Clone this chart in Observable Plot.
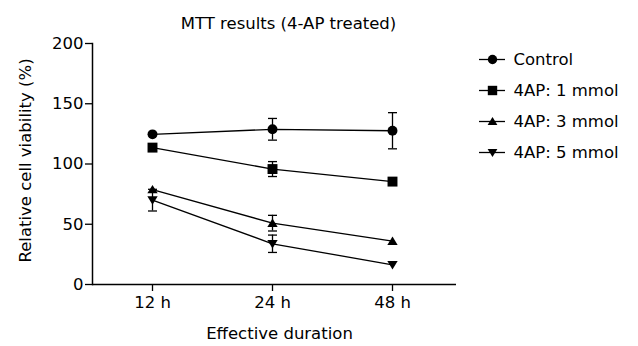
<!DOCTYPE html>
<html>
<head>
<meta charset="utf-8">
<script src="https://cdn.jsdelivr.net/npm/d3@7"></script>
<script src="https://cdn.jsdelivr.net/npm/@observablehq/plot@0.6"></script>
<style>
  html, body { margin: 0; padding: 0; background: #fff; }
  #wrap { position: relative; width: 638px; height: 346px; font-family: "DejaVu Sans", sans-serif; }
  #legend { position: absolute; left: 470px; top: 40px; }
</style>
</head>
<body>
<div id="wrap"><div id="chart"></div><div id="legend"></div></div>
<script>
const title = "MTT results (4-AP treated)";
const xLabel = "Effective duration";
const yLabel = "Relative cell viability (%)";
const durations = ["12 h", "24 h", "48 h"];
const seriesNames = ["Control", "4AP: 1 mmol", "4AP: 3 mmol", "4AP: 5 mmol"];
const controlMean = [124.6, 128.8, 127.6];
const controlErr = [0, 9, 15];
const mmol1Mean = [113.6, 95.8, 85.4];
const mmol1Err = [0, 6.2, 0];
const mmol3Mean = [78.8, 50.9, 36.0];
const mmol3Err = [0, 6.5, 0];
const mmol5Mean = [70.0, 33.8, 16.3];
const mmol5Err = [9, 7.2, 0];
const yTicks = [0, 50, 100, 150, 200];

const means = [controlMean, mmol1Mean, mmol3Mean, mmol5Mean];
const errs = [controlErr, mmol1Err, mmol3Err, mmol5Err];

const data = [];
seriesNames.forEach((s, i) => durations.forEach((d, j) => {
  data.push({series: s, duration: d, mean: means[i][j], err: errs[i][j], lo: means[i][j] - errs[i][j], hi: means[i][j] + errs[i][j]});
}));

// custom symbols
const symCircle = {draw(ctx, size) { const r = Math.sqrt(size) * 0.5; ctx.moveTo(r, 0); ctx.arc(0, 0, r, 0, 2 * Math.PI); }};
const symSquare = {draw(ctx, size) { const s = Math.sqrt(size) * 0.5; ctx.rect(-s, -s, 2 * s, 2 * s); }};
const symTriUp = {draw(ctx, size) { const s = Math.sqrt(size); const w = s * 0.52, h = s * 0.85; ctx.moveTo(0, -h * 0.55); ctx.lineTo(w, h * 0.45); ctx.lineTo(-w, h * 0.45); ctx.closePath(); }};
const symTriDown = {draw(ctx, size) { const s = Math.sqrt(size); const w = s * 0.52, h = s * 0.85; ctx.moveTo(0, h * 0.55); ctx.lineTo(w, -h * 0.45); ctx.lineTo(-w, -h * 0.45); ctx.closePath(); }};
const symCap = {draw(ctx, size) { const w = Math.sqrt(size) * 0.5; ctx.moveTo(-w, 0); ctx.lineTo(w, 0); }};
const symbols = [symCircle, symSquare, symTriUp, symTriDown];

const font = "'DejaVu Sans', sans-serif";
const fs = 16.5;
const marks = [];
seriesNames.forEach((s, i) => {
  const rows = data.filter(d => d.series === s);
  const errRows = rows.filter(d => d.err > 0);
  marks.push(Plot.line(rows, {x: "duration", y: "mean", stroke: "black", strokeWidth: 1.3}));
  marks.push(Plot.ruleX(errRows, {x: "duration", y1: "lo", y2: "hi", stroke: "black", strokeWidth: 1.3}));
  marks.push(Plot.dot(errRows, {x: "duration", y: "lo", symbol: symCap, r: 5.1, stroke: "black", fill: "none", strokeWidth: 1.3}));
  marks.push(Plot.dot(errRows, {x: "duration", y: "hi", symbol: symCap, r: 5.1, stroke: "black", fill: "none", strokeWidth: 1.3}));
  marks.push(Plot.dot(rows, {x: "duration", y: "mean", symbol: symbols[i], r: 5.6, fill: "black", stroke: "none"}));
});

const chart = Plot.plot({
  width: 638,
  height: 346,
  marginLeft: 92,
  marginRight: 182,
  marginTop: 43,
  marginBottom: 62,
  style: {fontFamily: font, fontSize: fs + "px", color: "black", background: "white"},
  x: {type: "point", domain: durations, padding: 0.5, insetRight: 4, label: null},
  y: {domain: [0, 200], label: null},
  marks: [
    Plot.axisY({ticks: yTicks, tickSize: 7, tickPadding: 2, tickFormat: d => d, fontSize: fs, label: null, strokeWidth: 1.3}),
    Plot.axisX({tickSize: 7, tickPadding: 5, fontSize: fs, label: null, strokeWidth: 1.3}),
    Plot.ruleY([0], {stroke: "black", strokeWidth: 1.5}),
    Plot.frame({anchor: "left", stroke: "black", strokeWidth: 1.5}),
    ...marks,
    Plot.text([title], {frameAnchor: "top", dy: -15, dx: 14, fontSize: fs, lineAnchor: "bottom", text: d => d}),
    Plot.text([xLabel], {frameAnchor: "bottom", dy: 43, dx: 5, fontSize: fs, lineAnchor: "top", text: d => d}),
    Plot.text([yLabel], {frameAnchor: "left", dx: -67, dy: -3.5, rotate: -90, textAnchor: "middle", lineAnchor: "middle", fontSize: fs, text: d => d})
  ]
});
document.getElementById("chart").appendChild(chart);

const legend = Plot.plot({
  width: 168,
  height: 130,
  margin: 0,
  style: {fontFamily: font, fontSize: fs + "px", color: "black", background: "transparent", overflow: "visible"},
  x: {domain: [0, 1], range: [9, 35], axis: null},
  y: {type: "point", domain: seriesNames, range: [18, 113], padding: 0, axis: null},
  marks: [
    Plot.ruleY(seriesNames, {y: d => d, x1: 0, x2: 1, stroke: "black", strokeWidth: 1.3}),
    ...seriesNames.map((s, i) => Plot.dot([s], {x: 0.5, y: d => d, symbol: symbols[i], r: 5.3, fill: "black", stroke: "none"})),
    Plot.text(seriesNames, {x: 1, y: d => d, dx: 8, textAnchor: "start", fontSize: fs, text: d => d})
  ]
});
document.getElementById("legend").appendChild(legend);
</script>
</body>
</html>
